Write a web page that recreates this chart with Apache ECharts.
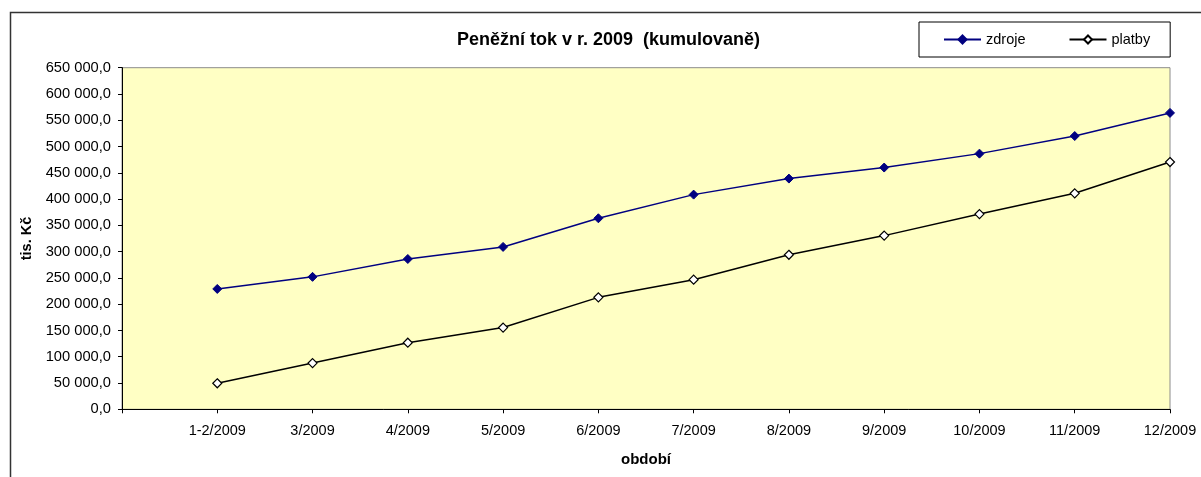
<!DOCTYPE html>
<html>
<head>
<meta charset="utf-8">
<script src="https://cdn.jsdelivr.net/npm/echarts@6/dist/echarts.min.js"></script>
<style>
html,body{margin:0;padding:0;background:#fff;}
#c{width:1201px;height:477px;}
</style>
</head>
<body>
<div id="c"></div>
<script>
const categories = ['1-2/2009','3/2009','4/2009','5/2009','6/2009','7/2009','8/2009','9/2009','10/2009','11/2009','12/2009'];
const zdroje = [229000, 252000, 286000, 309000, 363500, 408500, 439000, 460000, 486500, 520000, 564000];
const platby = [49500, 88000, 126700, 155500, 213000, 246700, 294000, 330500, 371500, 411000, 470500];
const yTicks = {min: 0, max: 650000, interval: 50000};

const FONT = '"Liberation Sans", Arial, sans-serif';
function fmt(v){
  const s = Math.round(v).toString().replace(/\B(?=(\d{3})+(?!\d))/g, ' ');
  return s + ',0';
}
const chart = echarts.init(document.getElementById('c'), null, {renderer:'canvas'});
chart.setOption({
  animation: false,
  backgroundColor: '#fff',
  textStyle: {fontFamily: FONT},
  title: {
    text: 'Peněžní tok v r. 2009  (kumulovaně)',
    left: 452, top: 26,
    textStyle: {fontFamily: FONT, fontSize: 18, fontWeight: 'bold', color: '#000'}
  },
  legend: {
    left: 919, top: 22,
    padding: [10, 20, 10, 24],
    itemGap: 43,
    itemWidth: 37, itemHeight: 10,
    borderColor: '#000', borderWidth: 1,
    textStyle: {fontFamily: FONT, fontSize: 14.5, color: '#000'},
    data: ['zdroje', 'platby']
  },
  grid: {
    left: 122, right: 31, top: 67.7, bottom: 67.7,
    show: true, backgroundColor: '#FFFFC4', borderColor: '#8c8c8c', borderWidth: 1
  },
  xAxis: {
    type: 'category',
    boundaryGap: false,
    data: [''].concat(categories),
    axisLine: {lineStyle: {color: '#000', width: 1}},
    axisTick: {show: true, length: 4, interval: 0, lineStyle: {color: '#000'}},
    axisLabel: {interval: 0, margin: 14, color: '#000', fontFamily: FONT, fontSize: 14.5},
    splitLine: {show: false},
    name: 'období', nameLocation: 'middle', nameGap: 43,
    nameTextStyle: {fontFamily: FONT, fontSize: 15, fontWeight: 'bold', color: '#000', verticalAlign: 'top'}
  },
  yAxis: {
    type: 'value',
    min: yTicks.min, max: yTicks.max, interval: yTicks.interval,
    axisLine: {show: true, lineStyle: {color: '#000', width: 1}},
    axisTick: {show: true, length: 4, lineStyle: {color: '#000'}},
    axisLabel: {margin: 11, color: '#000', fontFamily: FONT, fontSize: 14.7, formatter: fmt},
    splitLine: {show: false},
    name: 'tis. Kč', nameLocation: 'middle', nameGap: 87, nameRotate: 90,
    nameTextStyle: {fontFamily: FONT, fontSize: 14.5, fontWeight: 'bold', color: '#000'}
  },
  series: [
    {
      name: 'zdroje', type: 'line',
      data: [null].concat(zdroje),
      symbol: 'diamond', symbolSize: 9,
      lineStyle: {color: '#000080', width: 1.5},
      itemStyle: {color: '#000080', borderColor: '#000080', borderWidth: 1},
      z: 3
    },
    {
      name: 'platby', type: 'line',
      data: [null].concat(platby),
      symbol: 'diamond', symbolSize: 9,
      lineStyle: {color: '#000', width: 1.5},
      itemStyle: {color: '#fff', borderColor: '#000', borderWidth: 1.2},
      z: 3
    }
  ],
  graphic: [
    {type: 'rect', silent: true, z: 100,
     shape: {x: 10.5, y: 12.5, width: 1220, height: 500},
     style: {fill: 'none', stroke: '#333', lineWidth: 1.5}}
  ]
});
</script>
</body>
</html>
